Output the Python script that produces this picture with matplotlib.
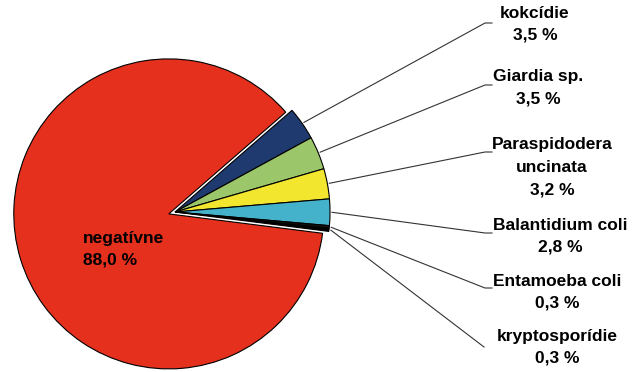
import matplotlib
matplotlib.use('Agg')
import matplotlib.pyplot as plt
import numpy as np

plt.rcParams['font.family'] = ['Liberation Sans', 'DejaVu Sans']

# data
labels = ['kokcídie', 'Giardia sp.', 'Paraspidodera\nuncinata', 'Balantidium coli',
          'Entamoeba coli', 'kryptosporídie', 'negatívne']
values = [3.5, 3.5, 3.2, 2.8, 0.3, 0.3, 88.0]
pct_text = ['3,5 %', '3,5 %', '3,2 %', '2,8 %', '0,3 %', '0,3 %', '88,0 %']
colors = ['#1F3A6E', '#9CC66A', '#F2E62E', '#45B2CB', '#111111', '#000000', '#E5301E']

W, H = 640, 372
fig = plt.figure(figsize=(6.4, 3.72), dpi=100)
ax = fig.add_axes([0, 0, 1, 1])

cx, cy, r = 175, H - 212, 155
# explode is in data units here (pixels)
explode = [0, 0, 0, 0, 0, 0, 6.5]
wedges, _ = ax.pie(values, colors=colors, startangle=41, counterclock=False,
                   explode=explode, center=(cx, cy), radius=r,
                   wedgeprops=dict(edgecolor='black', linewidth=0.8))
ax.set_xlim(0, W)
ax.set_ylim(0, H)
ax.set_aspect('equal')
ax.axis('off')

# label centre x, first-line y (image px), leader end y
lab_x = [535, 538, 552, 560, 557, 557]
lab_y = [15, 79, 147, 227, 283, 338]
end_y = [23, 85, 152, 233, 288, 347]
fs = 12.5
ls = 1.62
top_off = 9.5  # px from cap centre to text box top

for i in range(6):
    w = wedges[i]
    ang = np.deg2rad((w.theta1 + w.theta2) / 2)
    x0 = cx + (r + 2) * np.cos(ang)
    y0 = cy + (r + 2) * np.sin(ang)
    ey = H - end_y[i]
    if i < 5:
        ax.plot([x0, 485, 492], [y0, ey, ey], color='#333333', lw=0.8)
    else:
        ax.plot([x0, 484], [y0, ey], color='#333333', lw=0.8)
    ax.text(lab_x[i], H - lab_y[i] + top_off, labels[i] + '\n' + pct_text[i],
            ha='center', va='top', fontsize=fs, fontweight='bold',
            color='black', linespacing=ls)

ax.text(83, H - 240 + top_off, labels[6] + '\n' + pct_text[6], ha='left', va='top',
        fontsize=fs, fontweight='bold', color='black', linespacing=ls)

fig.savefig('out.png', dpi=100)
